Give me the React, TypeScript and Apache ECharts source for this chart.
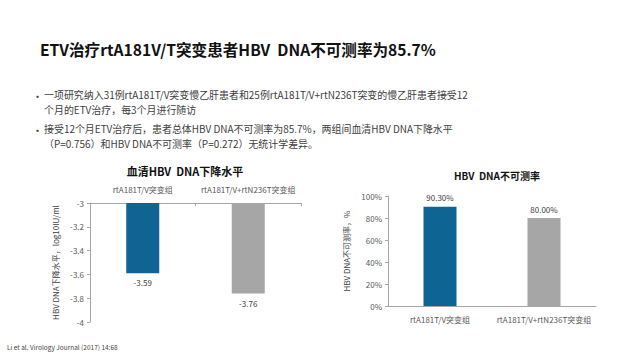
import React, { useEffect, useRef } from "react";
import * as echarts from "echarts";

const titleText = "ETV治疗rtA181V/T突变患者HBV  DNA不可测率为85.7%";
const bulletLines = [
  "一项研究纳入31例rtA181T/V突变慢乙肝患者和25例rtA181T/V+rtN236T突变的慢乙肝患者接受12",
  "个月的ETV治疗，每3个月进行随访",
  "接受12个月ETV治疗后，患者总体HBV DNA不可测率为85.7%，两组间血清HBV DNA下降水平",
  "（P=0.756）和HBV DNA不可测率（P=0.272）无统计学差异。",
];
const categories = ["rtA181T/V突变组", "rtA181T/V+rtN236T突变组"];
const declineValues = [-3.59, -3.76];
const undetectValues = [90.3, 80.0];
const leftTitle = "血清HBV  DNA下降水平";
const rightTitle = "HBV  DNA不可测率";
const leftYName = "HBV DNA下降水平，log10IU/ml";
const rightYName = "HBV DNA不可测率，%";
const footnote = "Li et al. Virology Journal (2017) 14:68";

const BLUE = "#0E6593";
const GRAY = "#A6A6A6";
const FONT = "'Noto Sans CJK SC', 'Noto Sans', sans-serif";
const TXT = "#404040";

export default function App() {
  const ref = useRef<HTMLDivElement>(null);
  useEffect(() => {
    if (!ref.current) return;
    const chart = echarts.init(ref.current, undefined, { renderer: "svg" });
    const lineY = [97, 112, 131, 146];
    const graphics: any[] = [
      {
        type: "text",
        left: 40,
        top: 41,
        style: { text: titleText, font: `bold 15.6px ${FONT}`, fill: "#111" },
      },
      {
        type: "text",
        left: 32,
        top: 90,
        style: { text: "•", font: `11px ${FONT}`, fill: TXT },
      },
      {
        type: "text",
        left: 32,
        top: 124,
        style: { text: "•", font: `11px ${FONT}`, fill: TXT },
      },
      ...bulletLines.map((t, i) => ({
        type: "text",
        left: 44,
        top: lineY[i] - 7,
        style: { text: t, font: `9.95px ${FONT}`, fill: TXT },
      })),
      {
        type: "text",
        x: 185,
        y: 171,
        style: { text: leftTitle, font: `bold 11px ${FONT}`, fill: "#111", align: "center", verticalAlign: "middle" },
      },
      {
        type: "text",
        x: 497,
        y: 175,
        style: { text: rightTitle, font: `bold 10px ${FONT}`, fill: "#111", align: "center", verticalAlign: "middle" },
      },
      {
        type: "text",
        left: 7,
        top: 344,
        style: { text: footnote, font: `6.5px ${FONT}`, fill: "#444" },
      },
    ];

    const axisLine = { show: true, lineStyle: { color: "#A6A6A6", width: 1 } };
    const labelStyle = { color: "#595959", fontSize: 8, fontFamily: FONT };

    chart.setOption({
      animation: false,
      backgroundColor: "#fff",
      graphic: graphics,
      grid: [
        { left: 90, right: 339, top: 203, bottom: 38 },
        { left: 388, right: 44, top: 196, bottom: 54 },
      ],
      xAxis: [
        {
          type: "category",
          gridIndex: 0,
          data: categories,
          position: "top",
          axisLine: { ...axisLine, onZero: false },
          axisTick: { show: true, inside: true, length: 3, lineStyle: { color: "#A6A6A6" } },
          axisLabel: { ...labelStyle, margin: 10, interval: 0 },
        },
        {
          type: "category",
          gridIndex: 1,
          data: categories,
          axisLine,
          axisTick: { show: false },
          axisLabel: { ...labelStyle, margin: 9, interval: 0 },
        },
      ],
      yAxis: [
        {
          type: "value",
          gridIndex: 0,
          min: -4,
          max: -3,
          interval: 0.2,
          axisLine,
          axisTick: { show: true, length: 3, lineStyle: { color: "#A6A6A6" } },
          splitLine: { show: false },
          axisLabel: { ...labelStyle, margin: 6, formatter: (v: number) => `${Number(v.toFixed(1))}` },
          name: leftYName,
          nameLocation: "middle",
          nameGap: 31,
          nameTextStyle: { color: "#404040", fontSize: 8, fontFamily: FONT },
        },
        {
          type: "value",
          gridIndex: 1,
          min: 0,
          max: 100,
          interval: 20,
          axisLine,
          axisTick: { show: true, length: 3, lineStyle: { color: "#A6A6A6" } },
          splitLine: { show: false },
          axisLabel: { ...labelStyle, margin: 6, formatter: "{value}%" },
          name: rightYName,
          nameLocation: "middle",
          nameGap: 38,
          nameTextStyle: { color: "#404040", fontSize: 8, fontFamily: FONT },
        },
      ],
      series: [
        {
          type: "bar",
          xAxisIndex: 0,
          yAxisIndex: 0,
          barWidth: 33,
          clip: true,
          data: declineValues.map((v, i) => ({
            value: v,
            itemStyle: { color: i === 0 ? BLUE : GRAY },
            label: { distance: i === 0 ? 5 : 6 },
          })),
          label: {
            show: true,
            position: "bottom",
            color: "#404040",
            fontSize: 8,
            fontFamily: FONT,
            formatter: (p: any) => p.value.toFixed(2),
          },
        },
        {
          type: "bar",
          xAxisIndex: 1,
          yAxisIndex: 1,
          barWidth: 33,
          data: undetectValues.map((v, i) => ({
            value: v,
            itemStyle: { color: i === 0 ? BLUE : GRAY },
          })),
          label: {
            show: true,
            position: "top",
            distance: 5,
            color: "#404040",
            fontSize: 8,
            fontFamily: FONT,
            formatter: (p: any) => `${p.value.toFixed(2)}%`,
          },
        },
      ],
    });
    return () => chart.dispose();
  }, []);
  return <div ref={ref} style={{ width: 640, height: 360, position: "absolute", left: 0, top: 0 }} />;
}
